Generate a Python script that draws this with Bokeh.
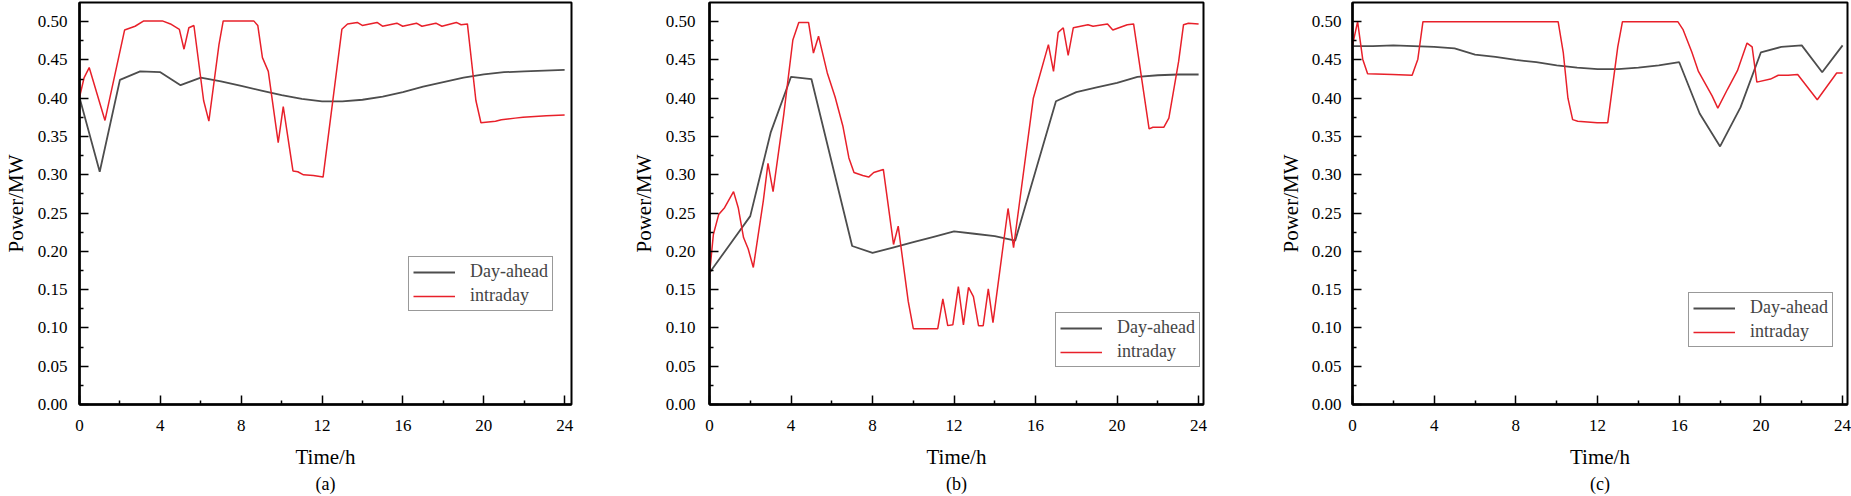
from bokeh.plotting import figure
from bokeh.layouts import row
from bokeh.models import Range1d, FixedTicker, NumeralTickFormatter, Legend, LegendItem, Title
from bokeh.embed import file_html
from bokeh.resources import INLINE

# ---------------- data ----------------
hours = list(range(25))

dayahead_a = [0.401, 0.304, 0.424, 0.435, 0.434, 0.417, 0.427, 0.422, 0.416, 0.410,
              0.404, 0.399, 0.396, 0.396, 0.398, 0.402, 0.408, 0.415, 0.421, 0.427,
              0.431, 0.434, 0.435, 0.436, 0.437]
intraday_a_t = [0.0, 0.23, 0.48, 1.26, 2.23, 2.75, 3.18, 4.1, 4.5, 4.94, 5.17, 5.41, 5.66,
                6.14, 6.4, 6.9, 7.11, 8.62, 8.82, 9.05, 9.34, 9.83, 10.08, 10.56, 10.8,
                11.08, 11.57, 12.05, 12.98, 13.26, 13.74, 13.99, 14.72, 14.99, 15.7, 15.99,
                16.67, 16.94, 17.63, 17.93, 18.64, 18.88, 19.19, 19.61, 19.86, 20.58, 20.87,
                21.55, 21.94, 23.1, 24.0]
intraday_a_p = [0.401, 0.427, 0.440, 0.371, 0.489, 0.494, 0.501, 0.501, 0.497, 0.490, 0.464,
                0.492, 0.495, 0.397, 0.370, 0.470, 0.501, 0.501, 0.495, 0.453, 0.435, 0.342,
                0.389, 0.305, 0.304, 0.300, 0.299, 0.297, 0.490, 0.497, 0.499, 0.495, 0.499,
                0.494, 0.498, 0.494, 0.498, 0.494, 0.498, 0.494, 0.499, 0.496, 0.497, 0.397,
                0.368, 0.370, 0.372, 0.374, 0.375, 0.377, 0.378]

dayahead_b = [0.172, 0.209, 0.246, 0.355, 0.428, 0.425, 0.316, 0.207, 0.198, 0.205,
              0.212, 0.219, 0.226, 0.223, 0.220, 0.214, 0.305, 0.396, 0.408, 0.414,
              0.420, 0.428, 0.430, 0.431, 0.431]
intraday_b_t = [0.0, 0.19, 0.45, 0.74, 1.18, 1.41, 1.67, 1.9, 2.15, 2.64, 2.87, 3.12, 3.64,
                4.09, 4.38, 4.86, 5.1, 5.35, 5.78, 6.16, 6.55, 6.84, 7.09, 7.52, 7.81, 8.06,
                8.53, 9.03, 9.26, 9.75, 10.0, 11.2, 11.45, 11.69, 11.94, 12.21, 12.46, 12.71,
                12.95, 13.2, 13.43, 13.68, 13.91, 14.65, 14.92, 15.89, 16.63, 16.88, 17.11,
                17.36, 17.6, 17.85, 18.57, 18.82, 19.53, 19.79, 20.5, 20.81, 21.57, 21.76,
                22.29, 22.54, 23.02, 23.26, 23.5, 24.0]
intraday_b_p = [0.170, 0.222, 0.248, 0.257, 0.278, 0.257, 0.218, 0.203, 0.179, 0.266, 0.315,
                0.278, 0.378, 0.476, 0.499, 0.499, 0.459, 0.481, 0.433, 0.402, 0.363, 0.322,
                0.303, 0.299, 0.297, 0.303, 0.307, 0.209, 0.233, 0.135, 0.099, 0.099, 0.138,
                0.103, 0.104, 0.154, 0.104, 0.153, 0.141, 0.103, 0.103, 0.151, 0.107, 0.256,
                0.205, 0.400, 0.470, 0.435, 0.486, 0.492, 0.456, 0.492, 0.496, 0.494, 0.497,
                0.489, 0.496, 0.497, 0.360, 0.362, 0.362, 0.374, 0.448, 0.496, 0.498, 0.497]

dayahead_c = [0.468, 0.468, 0.469, 0.468, 0.467, 0.465, 0.457, 0.454, 0.450, 0.447,
              0.443, 0.440, 0.438, 0.438, 0.440, 0.443, 0.447, 0.380, 0.337, 0.388,
              0.460, 0.467, 0.469, 0.434, 0.469]
intraday_c_t = [0.0, 0.25, 0.5, 0.74, 1.96, 2.92, 3.2, 3.45, 10.07, 10.32, 10.55, 10.78,
                11.03, 11.98, 12.5, 12.99, 13.22, 15.93, 16.18, 16.62, 16.94, 17.61, 17.89,
                18.37, 18.85, 19.32, 19.57, 19.8, 20.47, 20.85, 21.33, 21.8, 22.76, 23.71, 24.0]
intraday_c_p = [0.469, 0.500, 0.451, 0.432, 0.431, 0.430, 0.451, 0.500, 0.500, 0.460, 0.400,
                0.372, 0.370, 0.368, 0.368, 0.467, 0.500, 0.500, 0.490, 0.460, 0.435, 0.403,
                0.387, 0.412, 0.436, 0.472, 0.467, 0.421, 0.425, 0.430, 0.430, 0.431, 0.398,
                0.433, 0.433]

x_ticks = [0, 4, 8, 12, 16, 20, 24]
x_minor = [2, 6, 10, 14, 18, 22]
y_ticks = [0.0, 0.05, 0.10, 0.15, 0.20, 0.25, 0.30, 0.35, 0.40, 0.45, 0.50]
y_minor = [0.025, 0.075, 0.125, 0.175, 0.225, 0.275, 0.325, 0.375, 0.425, 0.475]

series_labels = ["Day-ahead", "intraday"]
captions = ["(a)", "(b)", "(c)"]

FONT = "Liberation Serif"
GRAY = "#4d4d4d"
RED = "#e8202a"


def make_panel(da, it, ip, caption, width, bl, br, xend, tick_standoff, label_standoff,
               leg_loc):
    p = figure(width=width, height=496, output_backend="svg", toolbar_location=None,
               x_range=Range1d(0, xend), y_range=Range1d(0, 0.525),
               min_border_left=bl, min_border_right=br, min_border_top=2, min_border_bottom=92,
               background_fill_color="white", border_fill_color="white",
               outline_line_color="black", outline_line_width=2)
    p.xgrid.visible = False
    p.ygrid.visible = False

    r1 = p.line(hours, da, line_color=GRAY, line_width=1.8)
    r2 = p.line(it, ip, line_color=RED, line_width=1.5)

    for ax in (p.xaxis[0], p.yaxis[0]):
        ax.axis_line_width = 2.5
        ax.axis_line_color = "black"
        ax.major_tick_in = 9
        ax.major_tick_out = 0
        ax.minor_tick_in = 4
        ax.minor_tick_out = 0
        ax.major_tick_line_width = 1.5
        ax.minor_tick_line_width = 1.5
        ax.major_label_text_font = FONT
        ax.major_label_text_font_size = "17px"
        ax.major_label_text_color = "black"
        ax.axis_label_text_font = FONT
        ax.axis_label_text_font_size = "21px"
        ax.axis_label_text_font_style = "normal"
        ax.axis_label_text_color = "black"

    p.xaxis.ticker = FixedTicker(ticks=x_ticks, minor_ticks=x_minor)
    p.yaxis.ticker = FixedTicker(ticks=y_ticks, minor_ticks=y_minor)
    p.yaxis.formatter = NumeralTickFormatter(format="0.00")
    p.xaxis.axis_label = "Time/h"
    p.yaxis.axis_label = "Power/MW"
    p.xaxis.major_label_standoff = 15
    p.xaxis.axis_label_standoff = 11
    p.yaxis.major_label_standoff = tick_standoff
    p.yaxis.axis_label_standoff = label_standoff

    legend = Legend(items=[LegendItem(label=series_labels[0], renderers=[r1]),
                           LegendItem(label=series_labels[1], renderers=[r2])],
                    location=leg_loc, margin=0, padding=4, spacing=3,
                    glyph_width=42, glyph_height=20, label_height=20, label_standoff=15,
                    label_text_font=FONT, label_text_font_size="18px",
                    border_line_color="#333333", border_line_width=1.5,
                    background_fill_color="white", background_fill_alpha=1.0)
    p.add_layout(legend)

    p.add_layout(Title(text=caption, align="center", text_font=FONT, text_font_size="18px",
                       text_font_style="normal", text_color="black", standoff=0, offset=0),
                 "below")
    return p


pa = make_panel(dayahead_a, intraday_a_t, intraday_a_p, captions[0],
                628, 75, 57, 24.34, 12, 7, (329, 93))
pb = make_panel(dayahead_b, intraday_b_t, intraday_b_p, captions[1],
                620, 80, 45, 24.24, 14, 7, (346, 37))
pc = make_panel(dayahead_c, intraday_c_t, intraday_c_p, captions[2],
                603, 104, 4, 24.24, 11, 6, (336, 57))

layout = row(pa, pb, pc, spacing=0)

with open("out.html", "w") as f:
    f.write(file_html(layout, INLINE))
